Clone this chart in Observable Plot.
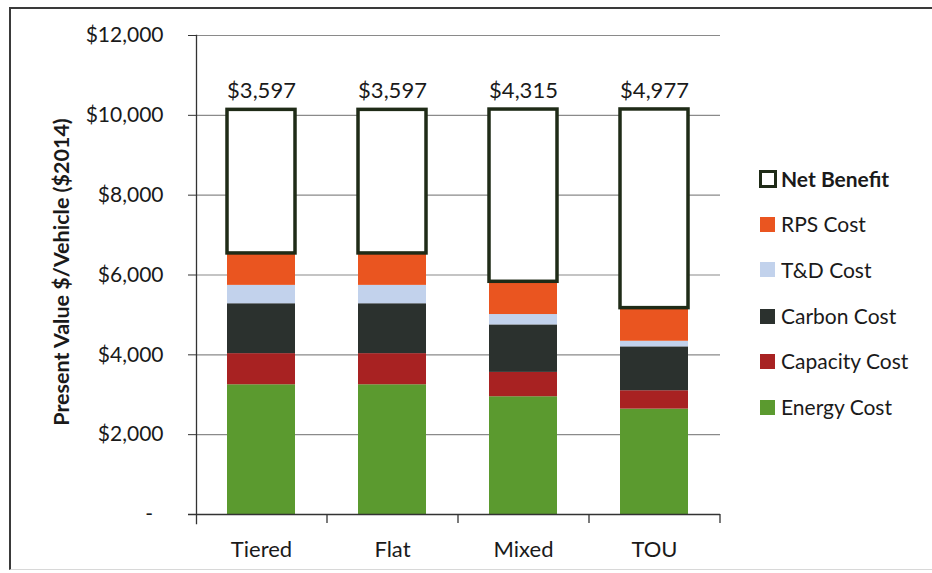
<!DOCTYPE html>
<html>
<head>
<meta charset="utf-8">
<script src="https://cdn.jsdelivr.net/npm/d3@7"></script>
<script src="https://cdn.jsdelivr.net/npm/@observablehq/plot@0.6"></script>
<style>
  html, body { margin: 0; padding: 0; background: #fff; overflow: hidden; }
  #wrap { position: relative; width: 932px; height: 573px; font-family: Lato, "Open Sans", sans-serif; color: #1a1a1a; }
  #wrap svg { position: absolute; left: 0; top: 0; }
  #border { position: absolute; left: 9px; top: 7px; width: 960px; height: 563px; border-left: 2px solid #3a3a3a; border-top: 2px solid #3a3a3a; border-bottom: 1px solid #d8d8d8; box-sizing: border-box; }
  .lg { position: absolute; left: 759px; height: 28px; line-height: 28px; font-size: 21px; white-space: nowrap; display: flex; align-items: center; }
  .sw { display: inline-block; width: 15px; height: 15px; margin-right: 6px; box-sizing: border-box; }
</style>
</head>
<body>
<div id="wrap"><div id="border"></div></div>
<script>
const categories = ["Tiered", "Flat", "Mixed", "TOU"];
const energyCost   = [3250, 3250, 2950, 2640];
const capacityCost = [780, 780, 610, 460];
const carbonCost   = [1250, 1250, 1190, 1100];
const tdCost       = [460, 460, 260, 140];
const rpsCost      = [800, 800, 820, 830];
const netBenefit   = [3597, 3597, 4315, 4977];
const seriesNames  = ["Energy Cost", "Capacity Cost", "Carbon Cost", "T&D Cost", "RPS Cost", "Net Benefit"];
const seriesColors = ["#5b9a2f", "#a82222", "#2b312e", "#c2d2ec", "#ea5520", "#ffffff"];
const legendOrder  = ["Net Benefit", "RPS Cost", "T&D Cost", "Carbon Cost", "Capacity Cost", "Energy Cost"];
const yTicks = [0, 2000, 4000, 6000, 8000, 10000, 12000];
const yTitle = "Present Value $/Vehicle ($2014)";

const seriesValues = [energyCost, capacityCost, carbonCost, tdCost, rpsCost, netBenefit];
const data = [];
categories.forEach((c, i) => {
  seriesNames.forEach((s, j) => data.push({cat: c, series: s, value: seriesValues[j][i]}));
});
const totals = categories.map((c, i) => seriesValues.reduce((a, arr) => a + arr[i], 0));
const fmt = d3.format(",");
const ink = "#1a1a1a";

const chart = Plot.plot({
  width: 932,
  height: 573,
  marginLeft: 196,
  marginRight: 212,
  marginTop: 35,
  marginBottom: 59,
  style: {fontFamily: "Lato, 'Open Sans', sans-serif", fontSize: "20px", color: ink, background: "transparent", overflow: "visible"},
  x: {domain: categories, paddingInner: 0.48, paddingOuter: 0.24, axis: null},
  y: {domain: [0, 12000], axis: null},
  color: {domain: seriesNames, range: seriesColors},
  opacity: {domain: [0, 1], range: [0, 1]},
  marks: [
    Plot.gridY(yTicks, {stroke: "#8a8a8a", strokeOpacity: 1, strokeWidth: 1.2}),
    Plot.barY(data, {x: "cat", y: "value", fill: "series", z: "series"}),
    Plot.barY(data, {x: "cat", y: "value", z: "series", fill: "none", stroke: "#1f2b17", strokeWidth: 3.5,
      strokeOpacity: d => d.series === "Net Benefit" ? 1 : 0}),
    Plot.ruleY([0], {stroke: "#333", strokeWidth: 1.3, insetLeft: -8}),
    Plot.frame({anchor: "left", stroke: "#333", strokeWidth: 1.3, insetBottom: -9}),
    Plot.ruleX(categories, {x: d => d, y1: 0, y2: 0, dx: 65.5, insetBottom: -9, stroke: "#333", strokeWidth: 1.3}),
    Plot.axisY({ticks: yTicks, tickSize: 8, tickPadding: 25, fontSize: 21, label: null,
      tickFormat: d => d === 0 ? "-\u2002" : "$" + fmt(d), stroke: "#333", fill: ink}),
    Plot.axisX({tickSize: 0, tickPadding: 27, fontSize: 22, label: null, fill: ink}),
    Plot.text(categories, {x: d => d, y: (d, i) => totals[i], text: (d, i) => "$" + fmt(netBenefit[i]),
      dy: -19, fontSize: 22, fill: ink}),
    Plot.text([yTitle], {frameAnchor: "left", textAnchor: "middle", rotate: -90, dx: -134, dy: -3,
      fontWeight: "bold", fontSize: 21.5, fill: ink})
  ]
});

const wrap = document.getElementById("wrap");
wrap.appendChild(chart);

const legendY = [179, 224, 269.5, 316, 361, 407];
legendOrder.forEach((name, k) => {
  const row = document.createElement("div");
  row.className = "lg";
  row.style.top = (legendY[k] - 14) + "px";
  const sw = document.createElement("span");
  sw.className = "sw";
  const col = seriesColors[seriesNames.indexOf(name)];
  if (name === "Net Benefit") {
    sw.style.width = "18px"; sw.style.height = "18px";
    sw.style.border = "3px solid #1f2b17"; sw.style.background = "#fff";
    sw.style.marginRight = "4px";
    row.style.fontWeight = "bold";
  } else {
    sw.style.background = col;
    sw.style.marginLeft = "1px";
  }
  const tx = document.createElement("span");
  tx.textContent = name;
  row.appendChild(sw);
  row.appendChild(tx);
  wrap.appendChild(row);
});
</script>
</body>
</html>
